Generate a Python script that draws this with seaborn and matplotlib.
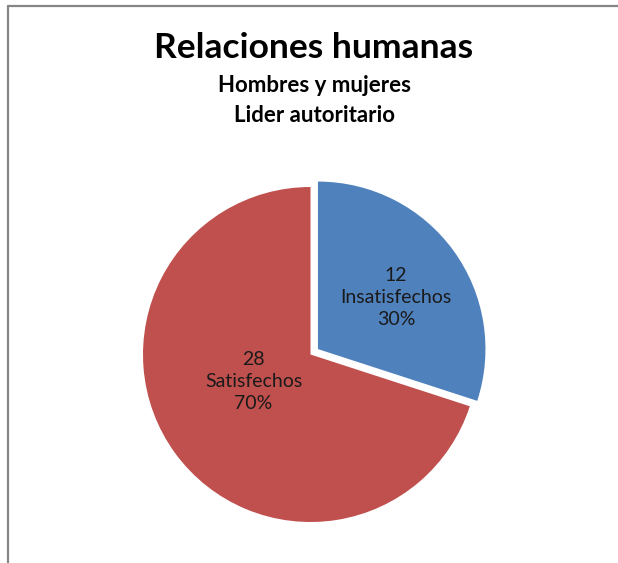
import matplotlib
matplotlib.use("Agg")
import matplotlib.pyplot as plt
from matplotlib.lines import Line2D
import seaborn as sns

# Chart data
categories = ["Insatisfechos", "Satisfechos"]
counts = [12, 28]
percents = [30, 70]
colors = ["#4F81BD", "#C0504D"]

sns.set_theme(style="white")
plt.rcParams["font.family"] = ["Lato", "DejaVu Sans"]

W, H = 618, 563
fig = plt.figure(figsize=(W / 100, H / 100), dpi=100)
fig.patch.set_facecolor("white")

# Pie axes: centre (310.5, 354.5) px, radius 167.5 px
cx, cy, r = 310.5, 354.5, 167.5
ax = fig.add_axes([(cx - r) / W, (H - cy - r) / H, 2 * r / W, 2 * r / H])
wedges, _ = ax.pie(
    counts,
    colors=colors,
    startangle=90,
    counterclock=False,
    explode=[0.055, 0.0],
    radius=1.0,
    wedgeprops=dict(linewidth=0),
)
for w in wedges:
    w.set_clip_on(False)
ax.set_xlim(-1, 1)
ax.set_ylim(-1, 1)
ax.set_aspect("equal")
ax.axis("off")

# Data labels inside the slices
label_pos = [(0.51, 0.34), (-0.34, -0.16)]
for (x, y), cat, n, p in zip(label_pos, categories, counts, percents):
    ax.text(x, y, f"{n}\n{cat}\n{p}%", ha="center", va="center",
            fontsize=14, color="#1a1a1a", linespacing=1.35)

# Titles
fig.text(314 / W, 1 - 48 / H, "Relaciones humanas", ha="center", va="center",
         fontsize=25.5, fontweight="bold", color="black")
fig.text(314 / W, 1 - 85 / H, "Hombres y mujeres", ha="center", va="center",
         fontsize=16, fontweight="bold", color="black")
fig.text(314 / W, 1 - 115 / H, "Lider autoritario", ha="center", va="center",
         fontsize=16, fontweight="bold", color="black")

# Chart-area frame (top and left edges)
frame_color = "#868686"
fig.add_artist(Line2D([8 / W, 1.0], [1 - 6 / H, 1 - 6 / H], color=frame_color,
                      linewidth=1.6, transform=fig.transFigure))
fig.add_artist(Line2D([8 / W, 8 / W], [0.0, 1 - 6 / H], color=frame_color,
                      linewidth=1.6, transform=fig.transFigure))

fig.savefig("out.png", dpi=100, facecolor="white")
